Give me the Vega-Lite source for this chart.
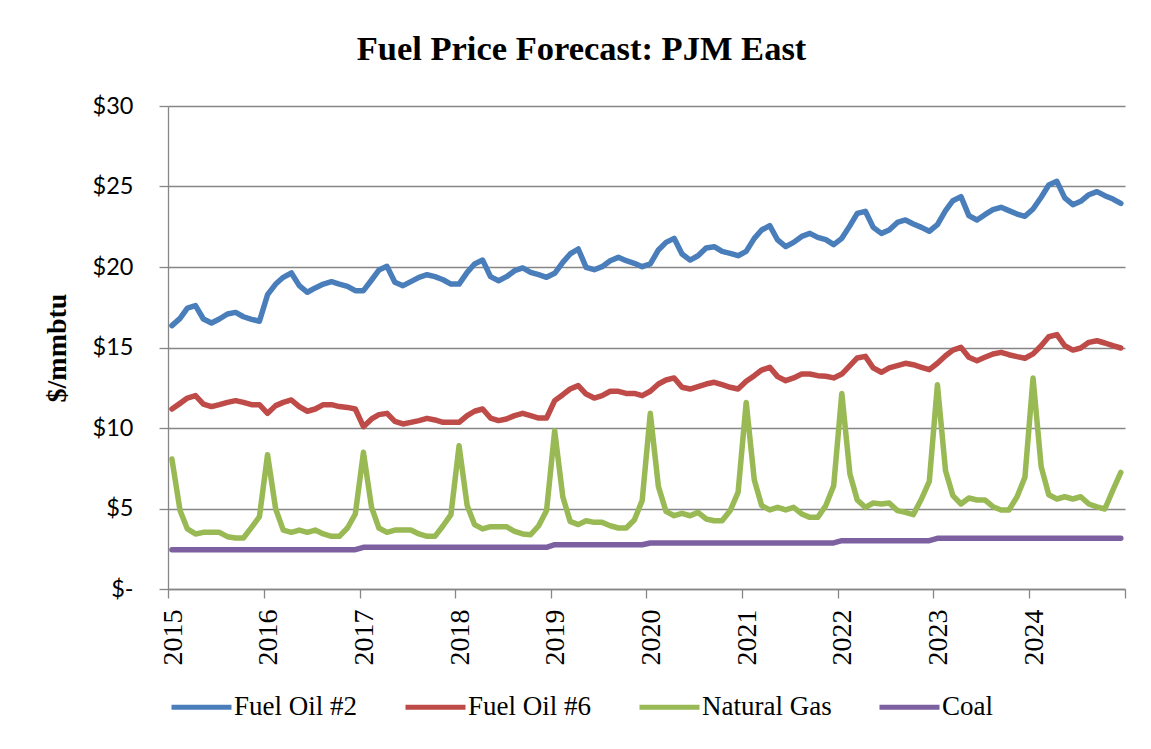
{
  "$schema": "https://vega.github.io/schema/vega-lite/v6.json",
  "width": 957,
  "height": 483,
  "autosize": {"type": "none"},
  "padding": {"left": 168, "top": 106, "right": 26, "bottom": 160},
  "background": "white",
  "title": {
    "text": "Fuel Price Forecast: PJM East",
    "font": "Liberation Serif",
    "fontSize": 34.5,
    "fontWeight": "bold",
    "color": "#000000",
    "anchor": "middle",
    "dx": -65,
    "offset": 0,
    "baseline": "alphabetic"
  },
  "config": {
    "view": {"stroke": null},
    "axis": {"domainColor": "#868686", "tickColor": "#868686", "gridColor": "#868686", "domainWidth": 1.3, "tickWidth": 1.3, "gridWidth": 1.3}
  },
  "data": {
    "values": [
      {"d":"2015-01-16","Fuel Oil #2":16.36,"Fuel Oil #6":11.18,"Natural Gas":8.07,"Coal":2.44},
      {"d":"2015-02-16","Fuel Oil #2":16.81,"Fuel Oil #6":11.53,"Natural Gas":4.87,"Coal":2.44},
      {"d":"2015-03-16","Fuel Oil #2":17.45,"Fuel Oil #6":11.86,"Natural Gas":3.73,"Coal":2.44},
      {"d":"2015-04-16","Fuel Oil #2":17.6,"Fuel Oil #6":12.01,"Natural Gas":3.42,"Coal":2.44},
      {"d":"2015-05-16","Fuel Oil #2":16.77,"Fuel Oil #6":11.49,"Natural Gas":3.52,"Coal":2.44},
      {"d":"2015-06-16","Fuel Oil #2":16.52,"Fuel Oil #6":11.33,"Natural Gas":3.52,"Coal":2.44},
      {"d":"2015-07-16","Fuel Oil #2":16.77,"Fuel Oil #6":11.45,"Natural Gas":3.52,"Coal":2.44},
      {"d":"2015-08-16","Fuel Oil #2":17.08,"Fuel Oil #6":11.59,"Natural Gas":3.25,"Coal":2.44},
      {"d":"2015-09-16","Fuel Oil #2":17.18,"Fuel Oil #6":11.7,"Natural Gas":3.17,"Coal":2.44},
      {"d":"2015-10-16","Fuel Oil #2":16.91,"Fuel Oil #6":11.59,"Natural Gas":3.17,"Coal":2.44},
      {"d":"2015-11-16","Fuel Oil #2":16.75,"Fuel Oil #6":11.45,"Natural Gas":3.83,"Coal":2.44},
      {"d":"2015-12-16","Fuel Oil #2":16.63,"Fuel Oil #6":11.45,"Natural Gas":4.49,"Coal":2.44},
      {"d":"2016-01-16","Fuel Oil #2":18.28,"Fuel Oil #6":10.91,"Natural Gas":8.34,"Coal":2.44},
      {"d":"2016-02-16","Fuel Oil #2":18.94,"Fuel Oil #6":11.39,"Natural Gas":4.97,"Coal":2.44},
      {"d":"2016-03-16","Fuel Oil #2":19.36,"Fuel Oil #6":11.59,"Natural Gas":3.66,"Coal":2.44},
      {"d":"2016-04-16","Fuel Oil #2":19.63,"Fuel Oil #6":11.74,"Natural Gas":3.52,"Coal":2.44},
      {"d":"2016-05-16","Fuel Oil #2":18.84,"Fuel Oil #6":11.33,"Natural Gas":3.66,"Coal":2.44},
      {"d":"2016-06-16","Fuel Oil #2":18.43,"Fuel Oil #6":11.04,"Natural Gas":3.52,"Coal":2.44},
      {"d":"2016-07-16","Fuel Oil #2":18.7,"Fuel Oil #6":11.18,"Natural Gas":3.66,"Coal":2.44},
      {"d":"2016-08-16","Fuel Oil #2":18.94,"Fuel Oil #6":11.45,"Natural Gas":3.42,"Coal":2.44},
      {"d":"2016-09-16","Fuel Oil #2":19.09,"Fuel Oil #6":11.45,"Natural Gas":3.27,"Coal":2.44},
      {"d":"2016-10-16","Fuel Oil #2":18.94,"Fuel Oil #6":11.33,"Natural Gas":3.27,"Coal":2.44},
      {"d":"2016-11-16","Fuel Oil #2":18.8,"Fuel Oil #6":11.28,"Natural Gas":3.79,"Coal":2.44},
      {"d":"2016-12-16","Fuel Oil #2":18.53,"Fuel Oil #6":11.18,"Natural Gas":4.66,"Coal":2.44},
      {"d":"2017-01-16","Fuel Oil #2":18.53,"Fuel Oil #6":10.08,"Natural Gas":8.49,"Coal":2.59},
      {"d":"2017-02-16","Fuel Oil #2":19.19,"Fuel Oil #6":10.56,"Natural Gas":5.07,"Coal":2.59},
      {"d":"2017-03-16","Fuel Oil #2":19.81,"Fuel Oil #6":10.83,"Natural Gas":3.79,"Coal":2.59},
      {"d":"2017-04-16","Fuel Oil #2":20.04,"Fuel Oil #6":10.91,"Natural Gas":3.52,"Coal":2.59},
      {"d":"2017-05-16","Fuel Oil #2":19.05,"Fuel Oil #6":10.41,"Natural Gas":3.66,"Coal":2.59},
      {"d":"2017-06-16","Fuel Oil #2":18.84,"Fuel Oil #6":10.25,"Natural Gas":3.66,"Coal":2.59},
      {"d":"2017-07-16","Fuel Oil #2":19.09,"Fuel Oil #6":10.35,"Natural Gas":3.66,"Coal":2.59},
      {"d":"2017-08-16","Fuel Oil #2":19.36,"Fuel Oil #6":10.46,"Natural Gas":3.42,"Coal":2.59},
      {"d":"2017-09-16","Fuel Oil #2":19.52,"Fuel Oil #6":10.6,"Natural Gas":3.27,"Coal":2.59},
      {"d":"2017-10-16","Fuel Oil #2":19.4,"Fuel Oil #6":10.5,"Natural Gas":3.27,"Coal":2.59},
      {"d":"2017-11-16","Fuel Oil #2":19.21,"Fuel Oil #6":10.35,"Natural Gas":3.93,"Coal":2.59},
      {"d":"2017-12-16","Fuel Oil #2":18.94,"Fuel Oil #6":10.35,"Natural Gas":4.62,"Coal":2.59},
      {"d":"2018-01-16","Fuel Oil #2":18.94,"Fuel Oil #6":10.35,"Natural Gas":8.9,"Coal":2.59},
      {"d":"2018-02-16","Fuel Oil #2":19.67,"Fuel Oil #6":10.77,"Natural Gas":5.18,"Coal":2.59},
      {"d":"2018-03-16","Fuel Oil #2":20.19,"Fuel Oil #6":11.04,"Natural Gas":4.0,"Coal":2.59},
      {"d":"2018-04-16","Fuel Oil #2":20.43,"Fuel Oil #6":11.18,"Natural Gas":3.73,"Coal":2.59},
      {"d":"2018-05-16","Fuel Oil #2":19.4,"Fuel Oil #6":10.62,"Natural Gas":3.87,"Coal":2.59},
      {"d":"2018-06-16","Fuel Oil #2":19.15,"Fuel Oil #6":10.46,"Natural Gas":3.87,"Coal":2.59},
      {"d":"2018-07-16","Fuel Oil #2":19.4,"Fuel Oil #6":10.56,"Natural Gas":3.87,"Coal":2.59},
      {"d":"2018-08-16","Fuel Oil #2":19.77,"Fuel Oil #6":10.77,"Natural Gas":3.58,"Coal":2.59},
      {"d":"2018-09-16","Fuel Oil #2":19.94,"Fuel Oil #6":10.91,"Natural Gas":3.42,"Coal":2.59},
      {"d":"2018-10-16","Fuel Oil #2":19.67,"Fuel Oil #6":10.77,"Natural Gas":3.37,"Coal":2.59},
      {"d":"2018-11-16","Fuel Oil #2":19.52,"Fuel Oil #6":10.62,"Natural Gas":3.93,"Coal":2.59},
      {"d":"2018-12-16","Fuel Oil #2":19.36,"Fuel Oil #6":10.62,"Natural Gas":4.87,"Coal":2.59},
      {"d":"2019-01-16","Fuel Oil #2":19.61,"Fuel Oil #6":11.7,"Natural Gas":9.83,"Coal":2.75},
      {"d":"2019-02-16","Fuel Oil #2":20.29,"Fuel Oil #6":12.07,"Natural Gas":5.73,"Coal":2.75},
      {"d":"2019-03-16","Fuel Oil #2":20.81,"Fuel Oil #6":12.42,"Natural Gas":4.2,"Coal":2.75},
      {"d":"2019-04-16","Fuel Oil #2":21.12,"Fuel Oil #6":12.63,"Natural Gas":4.0,"Coal":2.75},
      {"d":"2019-05-16","Fuel Oil #2":19.98,"Fuel Oil #6":12.11,"Natural Gas":4.24,"Coal":2.75},
      {"d":"2019-06-16","Fuel Oil #2":19.83,"Fuel Oil #6":11.86,"Natural Gas":4.14,"Coal":2.75},
      {"d":"2019-07-16","Fuel Oil #2":20.02,"Fuel Oil #6":12.01,"Natural Gas":4.14,"Coal":2.75},
      {"d":"2019-08-16","Fuel Oil #2":20.39,"Fuel Oil #6":12.28,"Natural Gas":3.93,"Coal":2.75},
      {"d":"2019-09-16","Fuel Oil #2":20.6,"Fuel Oil #6":12.28,"Natural Gas":3.79,"Coal":2.75},
      {"d":"2019-10-16","Fuel Oil #2":20.39,"Fuel Oil #6":12.15,"Natural Gas":3.79,"Coal":2.75},
      {"d":"2019-11-16","Fuel Oil #2":20.23,"Fuel Oil #6":12.15,"Natural Gas":4.29,"Coal":2.75},
      {"d":"2019-12-16","Fuel Oil #2":20.02,"Fuel Oil #6":12.01,"Natural Gas":5.49,"Coal":2.75},
      {"d":"2020-01-16","Fuel Oil #2":20.19,"Fuel Oil #6":12.28,"Natural Gas":10.91,"Coal":2.86},
      {"d":"2020-02-16","Fuel Oil #2":21.06,"Fuel Oil #6":12.73,"Natural Gas":6.36,"Coal":2.86},
      {"d":"2020-03-16","Fuel Oil #2":21.53,"Fuel Oil #6":12.98,"Natural Gas":4.82,"Coal":2.86},
      {"d":"2020-04-16","Fuel Oil #2":21.78,"Fuel Oil #6":13.11,"Natural Gas":4.55,"Coal":2.86},
      {"d":"2020-05-16","Fuel Oil #2":20.81,"Fuel Oil #6":12.53,"Natural Gas":4.7,"Coal":2.86},
      {"d":"2020-06-16","Fuel Oil #2":20.43,"Fuel Oil #6":12.42,"Natural Gas":4.55,"Coal":2.86},
      {"d":"2020-07-16","Fuel Oil #2":20.7,"Fuel Oil #6":12.57,"Natural Gas":4.76,"Coal":2.86},
      {"d":"2020-08-16","Fuel Oil #2":21.18,"Fuel Oil #6":12.73,"Natural Gas":4.35,"Coal":2.86},
      {"d":"2020-09-16","Fuel Oil #2":21.26,"Fuel Oil #6":12.84,"Natural Gas":4.24,"Coal":2.86},
      {"d":"2020-10-16","Fuel Oil #2":20.97,"Fuel Oil #6":12.69,"Natural Gas":4.24,"Coal":2.86},
      {"d":"2020-11-16","Fuel Oil #2":20.85,"Fuel Oil #6":12.53,"Natural Gas":4.87,"Coal":2.86},
      {"d":"2020-12-16","Fuel Oil #2":20.7,"Fuel Oil #6":12.42,"Natural Gas":6.0,"Coal":2.86},
      {"d":"2021-01-16","Fuel Oil #2":20.97,"Fuel Oil #6":12.9,"Natural Gas":11.59,"Coal":2.86},
      {"d":"2021-02-16","Fuel Oil #2":21.78,"Fuel Oil #6":13.25,"Natural Gas":6.77,"Coal":2.86},
      {"d":"2021-03-16","Fuel Oil #2":22.3,"Fuel Oil #6":13.6,"Natural Gas":5.18,"Coal":2.86},
      {"d":"2021-04-16","Fuel Oil #2":22.57,"Fuel Oil #6":13.77,"Natural Gas":4.91,"Coal":2.86},
      {"d":"2021-05-16","Fuel Oil #2":21.68,"Fuel Oil #6":13.19,"Natural Gas":5.07,"Coal":2.86},
      {"d":"2021-06-16","Fuel Oil #2":21.26,"Fuel Oil #6":12.94,"Natural Gas":4.91,"Coal":2.86},
      {"d":"2021-07-16","Fuel Oil #2":21.53,"Fuel Oil #6":13.11,"Natural Gas":5.07,"Coal":2.86},
      {"d":"2021-08-16","Fuel Oil #2":21.9,"Fuel Oil #6":13.35,"Natural Gas":4.66,"Coal":2.86},
      {"d":"2021-09-16","Fuel Oil #2":22.09,"Fuel Oil #6":13.35,"Natural Gas":4.45,"Coal":2.86},
      {"d":"2021-10-16","Fuel Oil #2":21.84,"Fuel Oil #6":13.25,"Natural Gas":4.45,"Coal":2.86},
      {"d":"2021-11-16","Fuel Oil #2":21.7,"Fuel Oil #6":13.21,"Natural Gas":5.18,"Coal":2.86},
      {"d":"2021-12-16","Fuel Oil #2":21.39,"Fuel Oil #6":13.11,"Natural Gas":6.42,"Coal":2.86},
      {"d":"2022-01-16","Fuel Oil #2":21.78,"Fuel Oil #6":13.35,"Natural Gas":12.15,"Coal":3.0},
      {"d":"2022-02-16","Fuel Oil #2":22.57,"Fuel Oil #6":13.87,"Natural Gas":7.14,"Coal":3.0},
      {"d":"2022-03-16","Fuel Oil #2":23.33,"Fuel Oil #6":14.35,"Natural Gas":5.53,"Coal":3.0},
      {"d":"2022-04-16","Fuel Oil #2":23.46,"Fuel Oil #6":14.45,"Natural Gas":5.07,"Coal":3.0},
      {"d":"2022-05-16","Fuel Oil #2":22.46,"Fuel Oil #6":13.73,"Natural Gas":5.34,"Coal":3.0},
      {"d":"2022-06-16","Fuel Oil #2":22.09,"Fuel Oil #6":13.46,"Natural Gas":5.28,"Coal":3.0},
      {"d":"2022-07-16","Fuel Oil #2":22.3,"Fuel Oil #6":13.73,"Natural Gas":5.34,"Coal":3.0},
      {"d":"2022-08-16","Fuel Oil #2":22.77,"Fuel Oil #6":13.87,"Natural Gas":4.87,"Coal":3.0},
      {"d":"2022-09-16","Fuel Oil #2":22.92,"Fuel Oil #6":14.02,"Natural Gas":4.76,"Coal":3.0},
      {"d":"2022-10-16","Fuel Oil #2":22.67,"Fuel Oil #6":13.93,"Natural Gas":4.62,"Coal":3.0},
      {"d":"2022-11-16","Fuel Oil #2":22.46,"Fuel Oil #6":13.77,"Natural Gas":5.59,"Coal":3.0},
      {"d":"2022-12-16","Fuel Oil #2":22.22,"Fuel Oil #6":13.62,"Natural Gas":6.69,"Coal":3.0},
      {"d":"2023-01-16","Fuel Oil #2":22.63,"Fuel Oil #6":14.02,"Natural Gas":12.69,"Coal":3.15},
      {"d":"2023-02-16","Fuel Oil #2":23.5,"Fuel Oil #6":14.49,"Natural Gas":7.35,"Coal":3.15},
      {"d":"2023-03-16","Fuel Oil #2":24.12,"Fuel Oil #6":14.84,"Natural Gas":5.8,"Coal":3.15},
      {"d":"2023-04-16","Fuel Oil #2":24.37,"Fuel Oil #6":15.01,"Natural Gas":5.28,"Coal":3.15},
      {"d":"2023-05-16","Fuel Oil #2":23.19,"Fuel Oil #6":14.39,"Natural Gas":5.65,"Coal":3.15},
      {"d":"2023-06-16","Fuel Oil #2":22.92,"Fuel Oil #6":14.18,"Natural Gas":5.53,"Coal":3.15},
      {"d":"2023-07-16","Fuel Oil #2":23.25,"Fuel Oil #6":14.39,"Natural Gas":5.53,"Coal":3.15},
      {"d":"2023-08-16","Fuel Oil #2":23.56,"Fuel Oil #6":14.6,"Natural Gas":5.11,"Coal":3.15},
      {"d":"2023-09-16","Fuel Oil #2":23.71,"Fuel Oil #6":14.7,"Natural Gas":4.91,"Coal":3.15},
      {"d":"2023-10-16","Fuel Oil #2":23.5,"Fuel Oil #6":14.55,"Natural Gas":4.91,"Coal":3.15},
      {"d":"2023-11-16","Fuel Oil #2":23.29,"Fuel Oil #6":14.43,"Natural Gas":5.73,"Coal":3.15},
      {"d":"2023-12-16","Fuel Oil #2":23.15,"Fuel Oil #6":14.33,"Natural Gas":6.94,"Coal":3.15},
      {"d":"2024-01-16","Fuel Oil #2":23.6,"Fuel Oil #6":14.6,"Natural Gas":13.11,"Coal":3.15},
      {"d":"2024-02-16","Fuel Oil #2":24.33,"Fuel Oil #6":15.11,"Natural Gas":7.6,"Coal":3.15},
      {"d":"2024-03-16","Fuel Oil #2":25.09,"Fuel Oil #6":15.67,"Natural Gas":5.85,"Coal":3.15},
      {"d":"2024-04-16","Fuel Oil #2":25.32,"Fuel Oil #6":15.8,"Natural Gas":5.59,"Coal":3.15},
      {"d":"2024-05-16","Fuel Oil #2":24.29,"Fuel Oil #6":15.11,"Natural Gas":5.73,"Coal":3.15},
      {"d":"2024-06-16","Fuel Oil #2":23.87,"Fuel Oil #6":14.84,"Natural Gas":5.59,"Coal":3.15},
      {"d":"2024-07-16","Fuel Oil #2":24.08,"Fuel Oil #6":14.97,"Natural Gas":5.73,"Coal":3.15},
      {"d":"2024-08-16","Fuel Oil #2":24.49,"Fuel Oil #6":15.32,"Natural Gas":5.28,"Coal":3.15},
      {"d":"2024-09-16","Fuel Oil #2":24.68,"Fuel Oil #6":15.42,"Natural Gas":5.1,"Coal":3.15},
      {"d":"2024-10-16","Fuel Oil #2":24.43,"Fuel Oil #6":15.28,"Natural Gas":4.97,"Coal":3.15},
      {"d":"2024-11-16","Fuel Oil #2":24.22,"Fuel Oil #6":15.11,"Natural Gas":6.15,"Coal":3.15},
      {"d":"2024-12-16","Fuel Oil #2":23.95,"Fuel Oil #6":14.97,"Natural Gas":7.24,"Coal":3.15}
    ]
  },
  "transform": [
    {"fold": ["Fuel Oil #2", "Fuel Oil #6", "Natural Gas", "Coal"], "as": ["series", "price"]}
  ],
  "mark": {"type": "line", "strokeWidth": 5.5, "strokeJoin": "round", "strokeCap": "round"},
  "encoding": {
    "x": {
      "field": "d",
      "type": "temporal",
      "scale": {
        "type": "utc",
        "domain": [
          {"year": 2015, "month": 1, "date": 1, "utc": true},
          {"year": 2025, "month": 1, "date": 1, "utc": true}
        ]
      },
      "axis": {
        "title": null,
        "grid": false,
        "values": [
          {"year": 2015, "month": 1, "date": 1, "utc": true},
          {"year": 2016, "month": 1, "date": 1, "utc": true},
          {"year": 2017, "month": 1, "date": 1, "utc": true},
          {"year": 2018, "month": 1, "date": 1, "utc": true},
          {"year": 2019, "month": 1, "date": 1, "utc": true},
          {"year": 2020, "month": 1, "date": 1, "utc": true},
          {"year": 2021, "month": 1, "date": 1, "utc": true},
          {"year": 2022, "month": 1, "date": 1, "utc": true},
          {"year": 2023, "month": 1, "date": 1, "utc": true},
          {"year": 2024, "month": 1, "date": 1, "utc": true},
          {"year": 2025, "month": 1, "date": 1, "utc": true}
        ],
        "labelExpr": "utcyear(datum.value) >= 2025 ? '' : utcFormat(datum.value, '%Y')",
        "labelAngle": -90,
        "labelFont": "Liberation Serif",
        "labelFontSize": 28,
        "labelColor": "#000000",
        "labelPadding": 11,
        "labelOffset": 5,
        "labelOverlap": false,
        "labelFlush": false,
        "tickSize": 9
      }
    },
    "y": {
      "field": "price",
      "type": "quantitative",
      "scale": {"domain": [0, 30], "nice": false, "zero": true},
      "axis": {
        "values": [0, 5, 10, 15, 20, 25, 30],
        "labelExpr": "datum.value == 0 ? '$-\u2002' : '$' + datum.value",
        "labelFont": "Lato",
        "labelFontSize": 23.5,
        "labelColor": "#000000",
        "labelPadding": 26,
        "tickSize": 9,
        "grid": true,
        "title": "$/mmbtu",
        "titleFont": "Liberation Serif",
        "titleFontSize": 28,
        "titleFontWeight": "bold",
        "titleColor": "#000000",
        "titleAngle": -90,
        "titleBaseline": "alphabetic",
        "titleAlign": "center",
        "titleX": -103,
        "titleY": 241.5
      }
    },
    "color": {
      "field": "series",
      "type": "nominal",
      "scale": {
        "domain": ["Fuel Oil #2", "Fuel Oil #6", "Natural Gas", "Coal"],
        "range": ["#4A7EBB", "#BE4B48", "#98B954", "#7D60A0"]
      },
      "legend": {
        "title": null,
        "orient": "none",
        "direction": "horizontal",
        "legendX": 1,
        "legendY": 568.5,
        "padding": 0,
        "symbolType": "stroke",
        "symbolSize": 3600,
        "symbolStrokeWidth": 5,
        "labelFont": "Liberation Serif",
        "labelFontSize": 27,
        "labelColor": "#000000",
        "labelOffset": 0,
        "labelLimit": 400,
        "columnPadding": 37
      }
    }
  }
}
